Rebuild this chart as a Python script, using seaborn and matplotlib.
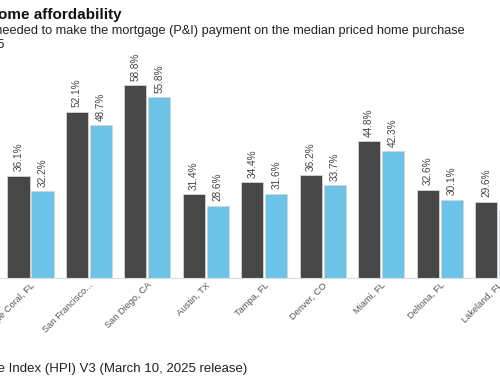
import matplotlib
matplotlib.use("Agg")
import matplotlib.pyplot as plt
import seaborn as sns
import pandas as pd

cities = ["Cape Coral, FL", "San Francisco...", "San Diego, CA", "Austin, TX",
          "Tampa, FL", "Denver, CO", "Miami, FL", "Deltona, FL", "Lakeland, FL"]
dark_values = [36.1, 52.1, 58.8, 31.4, 34.4, 36.2, 44.8, 32.6, 29.6]
light_values = [32.2, 48.7, 55.8, 28.6, 31.6, 33.7, 42.3, 30.1, 27.4]
series = ["Dark", "Light"]
colors = ["#474747", "#6cc3e8"]

df = pd.DataFrame({
    "city": cities * 2,
    "value": dark_values + light_values,
    "series": [series[0]] * len(cities) + [series[1]] * len(cities),
})

sns.set_theme(style="white")
plt.rcParams["font.family"] = ["Liberation Sans", "DejaVu Sans"]

fig = plt.figure(figsize=(5, 3.83), dpi=100)
ax = fig.add_axes([0, 105 / 383, 1, 218 / 383])

sns.barplot(data=df, x="city", y="value", hue="series", palette=colors,
            saturation=1, width=0.82, gap=0.08, edgecolor="#d5d5d5",
            linewidth=0.6, legend=False, ax=ax)

for cont in ax.containers:
    ax.bar_label(cont, labels=[f"{v:.1f}%" for v in cont.datavalues],
                 rotation=90, fontsize=7.2, color="#444444", padding=3)

ax.set_xlim(-30.5 / 58.44, (500 - 30.5) / 58.44)
ax.set_ylim(10.5, 65)
ax.set_xlabel("")
ax.set_ylabel("")
ax.set_yticks([])
for s in ["top", "right", "left"]:
    ax.spines[s].set_visible(False)
ax.spines["bottom"].set_color("#dddddd")
ax.spines["bottom"].set_linewidth(0.8)
ax.tick_params(axis="x", length=0, pad=2)
plt.setp(ax.get_xticklabels(), rotation=45, ha="right", rotation_mode="anchor",
         fontsize=6.7, color="#555555")

fig.text(122 / 500, 1 - 19 / 383, "Home affordability", ha="right",
         fontsize=11, fontweight="bold", color="#111111")
fig.text(465 / 500, 1 - 34 / 383,
         "Share of income needed to make the mortgage (P&I) payment on the median priced home purchase",
         ha="right", fontsize=9.2, color="#222222")
fig.text(5 / 500, 1 - 48 / 383, "2025", ha="right", fontsize=9.2, color="#222222")
fig.text(247 / 500, 1 - 372 / 383,
         "Source: ICE Home Price Index (HPI) V3 (March 10, 2025 release)",
         ha="right", fontsize=9.5, color="#222222")

fig.savefig("out.png", dpi=100)
